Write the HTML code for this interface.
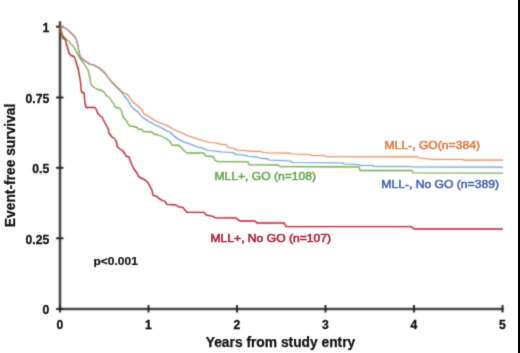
<!DOCTYPE html>
<html><head><meta charset="utf-8"><style>
html,body{margin:0;padding:0;background:#fff;}
body{width:520px;height:353px;overflow:hidden;position:relative;}
svg{position:absolute;left:0;top:0;display:block;}
text{font-family:"Liberation Sans",sans-serif;font-weight:bold;}
.tk{font-size:12.2px;fill:#111;stroke:#111;stroke-width:0.3px;}
.ttl{font-size:13.8px;fill:#111;stroke:#111;stroke-width:0.25px;}
.lg{font-size:11.5px;font-weight:normal;stroke-width:0.55px;}
.pv{font-size:10.5px;fill:#111;stroke:#111;stroke-width:0.2px;}
.rb{position:absolute;left:518px;top:0;width:2px;height:353px;background:#000;}
</style></head><body>
<svg width="520" height="353" viewBox="0 0 520 353">
<defs><filter id="bl" filterUnits="userSpaceOnUse" x="0" y="0" width="520" height="353" color-interpolation-filters="sRGB"><feConvolveMatrix order="3" kernelMatrix="0.0324 0.1152 0.0324 0.1152 0.4096 0.1152 0.0324 0.1152 0.0324" edgeMode="none"/></filter><filter id="bt" filterUnits="userSpaceOnUse" x="0" y="0" width="520" height="353" color-interpolation-filters="sRGB"><feConvolveMatrix order="3" kernelMatrix="0.0144 0.0912 0.0144 0.0912 0.5776 0.0912 0.0144 0.0912 0.0144" edgeMode="none"/></filter></defs>
<g filter="url(#bl)">
<rect x="0" y="0" width="520" height="353" fill="#fff"/>
<line x1="60" y1="21" x2="60" y2="310" stroke="#c4c4c4" stroke-width="3.6"/>
<line x1="58.5" y1="309" x2="504" y2="309" stroke="#c4c4c4" stroke-width="3.6"/>
<line x1="60" y1="21.5" x2="60" y2="310" stroke="#444444" stroke-width="2"/>
<line x1="59" y1="309" x2="503.5" y2="309" stroke="#444444" stroke-width="2"/>
<line x1="56" y1="26.7" x2="63.5" y2="26.7" stroke="#222" stroke-width="1.9"/>
<line x1="56" y1="97.5" x2="63.5" y2="97.5" stroke="#222" stroke-width="1.9"/>
<line x1="56" y1="167.8" x2="63.5" y2="167.8" stroke="#222" stroke-width="1.9"/>
<line x1="56" y1="238.3" x2="63.5" y2="238.3" stroke="#222" stroke-width="1.9"/>
<line x1="56" y1="309" x2="63.5" y2="309" stroke="#222" stroke-width="1.9"/>
<line x1="60.0" y1="305" x2="60.0" y2="312.5" stroke="#222" stroke-width="1.9"/>
<line x1="148.5" y1="305" x2="148.5" y2="312.5" stroke="#222" stroke-width="1.9"/>
<line x1="237.0" y1="305" x2="237.0" y2="312.5" stroke="#222" stroke-width="1.9"/>
<line x1="325.5" y1="305" x2="325.5" y2="312.5" stroke="#222" stroke-width="1.9"/>
<line x1="414.0" y1="305" x2="414.0" y2="312.5" stroke="#222" stroke-width="1.9"/>
<line x1="502.5" y1="305" x2="502.5" y2="312.5" stroke="#222" stroke-width="1.9"/>
<polyline points="60,27 61,32 64,37 67,40 69,41 71,44 73,46 75,49 77,53 79,57 81.5,60 84,64 86,67 88,70 89,74 90,78 90.5,82 92,86 95,88 98,89.5 102,90.5 105,93 106,95.5 109,97 111,100 113,103 114,104 115,107 118,108 120,108.5 121.5,111 122.5,115 124,118.5 126.5,120.5 128,124 130,126 134,126.5 137,127.5 138,129 142,129.5 143,131.5 152,132 154,134 158,135 162,136.5 166,138.5 170,141.5 172,145 179,145.5 182,148.5 185,151.5 187,153 204,153 205.5,156 213,156.5 215,160 217,161.5 248,161.8 249,164.8 278,165 280,166.5 359,167 360,170.5 412,170.5 413,172.8 503,173.2" fill="none" stroke="#70AE4C" stroke-width="1.32" stroke-linejoin="round"/>
<polyline points="60,26.7 61,26.4 64,27.5 67,29.5 70,32 73,35 75,37 76.5,40 77.5,44 78.5,49 79.5,54 80,56 81.5,58 84,60.5 87,62.5 90,64.5 93,65 96,66.5 99,68 102,70.5 105,73.5 108,77.5 112,82.5 115,85.5 118,88.5 121,91.5 123,94 125,97 127,99 129,102 131,106 133,108.5 136,110.5 139,113 142,117 145,119 148,121 151,122.5 154,124.5 158,126 162,128 166,130.5 170,132 174,136 178,139 184,142 190,144 196,146.5 202,148 208,150.5 214,151 222,152 233,152.5 236,154.5 244,155 248,156.5 256,156.8 260,158 267,158.8 269,160 280,160.5 290,161 293,162.5 343,163 344,164 358,164.5 360,165.5 373,165.5 374,166.5 410,166.5 412,167 503,167.2" fill="none" stroke="#5C96D6" stroke-width="1.18" stroke-linejoin="round"/>
<polyline points="60,26.7 61,26.4 64,27.5 67,29.5 70,32 73,35 75,37 76.5,40 77.5,44 78.5,49 79.5,54 80,56 81.5,58 84,60 87,62 90,64 93,64.5 96,66 99,67.5 102,70 105,73 108,77 112,82 115,85 118,88 121,91 124,93 128,95 130,98 133,102 136,104.5 139,107 142,110 144,114 147,115.5 151,118 154,120 158,122 163,124 168,126 172,128.5 176,130.5 182,133 187,135.5 192,137 198,139 204,141 210,142.5 216,143 222,144.5 226,144.5 228,147.5 234,148.5 237,150 245,150.5 248,151.2 260,151.5 264,152.5 270,153 290,153.2 293,154 310,154.5 312,155.5 324,155.5 326,156.6 417,156.8 420,158 432,159.5 463,159.5 464,160.2 503,160.2" fill="none" stroke="#EC7E44" stroke-width="1.18" stroke-linejoin="round"/>
<polyline points="60,27 61,33 63.5,38 65.5,40 66.5,44 67.5,47.5 68.5,51 69,53 71,55.5 74,56.5 75.5,60 77,65 78.5,70 79.5,76 80.5,82 81,88 81.5,92 84,93 84.5,98 85,103 86,107.5 95,107.5 96.5,110 97.5,113 100,116 102,117 103.5,120 105,123 107,126.5 108.5,130 109,133 112,137 115,139 116.5,142 117.5,147 120,149 123,151 125,154 126,156 129,157 130,160 132,165 134,169 137,173 139,177 143,178.85 147,181.35 149,184.35 150,186.35 152,190.35 153,195.35 156,195.95 159,198.35 162,200.35 165,201.35 167,204.35 176,204.95 179,206.95 183,207.35 185,210.35 187,212.35 204,212.35 206,214.95 213,216.35 215,217.75 236,217.95 238,219.85 240,220.95 255,220.95 257,222.95 284,222.95 286,226.65 411,226.65 414,228.95 503,229.05" fill="none" stroke="#BA1A2C" stroke-width="1.38" stroke-linejoin="round"/>
<polyline points="60,26.7 61,26.4 64,27.5 67,29.5 70,32 73,35 75,37 76.5,40 77.5,44 78.5,49 79.5,54 80,56 81.5,58 84,60.5 87,62.5 90,64.5 93,65 96,66.5 99,68 102,70.5 105,73.5 108,77.5 112,82.5 115,85.5 118,88.5 121,91.5" fill="none" stroke="#5C96D6" stroke-width="1.18" stroke-linejoin="round" stroke-opacity="0.35"/>
<polyline points="60.8,27.5 61.3,31 61.9,35 62.8,38.5" fill="none" stroke="#8c7a4a" stroke-width="1.7" stroke-opacity="0.85" stroke-linecap="round"/>
</g>
<g filter="url(#bt)">
<text x="49.3" y="31.9" text-anchor="end" class="tk">1</text>
<text x="49.3" y="102.7" text-anchor="end" class="tk">0.75</text>
<text x="49.3" y="173.0" text-anchor="end" class="tk">0.5</text>
<text x="49.3" y="243.5" text-anchor="end" class="tk">0.25</text>
<text x="49.3" y="314.2" text-anchor="end" class="tk">0</text>
<text x="60.0" y="329.2" text-anchor="middle" class="tk">0</text>
<text x="148.5" y="329.2" text-anchor="middle" class="tk">1</text>
<text x="237.0" y="329.2" text-anchor="middle" class="tk">2</text>
<text x="325.5" y="329.2" text-anchor="middle" class="tk">3</text>
<text x="414.0" y="329.2" text-anchor="middle" class="tk">4</text>
<text x="502.5" y="329.2" text-anchor="middle" class="tk">5</text>
<text x="280.5" y="347.2" text-anchor="middle" class="ttl">Years from study entry</text>
<text transform="translate(15.3,165.4) rotate(-90)" text-anchor="middle" class="ttl">Event-free survival</text>
<text x="384.5" y="148.6" class="lg" fill="#E07A40" stroke="#E07A40" textLength="95.5" lengthAdjust="spacingAndGlyphs">MLL-, GO(n=384)</text>
<text x="381.3" y="188.2" class="lg" fill="#4664AE" stroke="#4664AE" textLength="117.7" lengthAdjust="spacingAndGlyphs">MLL-, No GO (n=389)</text>
<text x="214.5" y="179.7" class="lg" fill="#68A650" stroke="#68A650" textLength="101.5" lengthAdjust="spacingAndGlyphs">MLL+, GO (n=108)</text>
<text x="210.5" y="242.2" class="lg" fill="#B01830" stroke="#B01830" textLength="120.5" lengthAdjust="spacingAndGlyphs">MLL+, No GO (n=107)</text>
<text x="93.5" y="264.8" class="pv" textLength="44.4" lengthAdjust="spacingAndGlyphs">p&lt;0.001</text>
</g>
</svg>
<div class="rb"></div>
</body></html>
